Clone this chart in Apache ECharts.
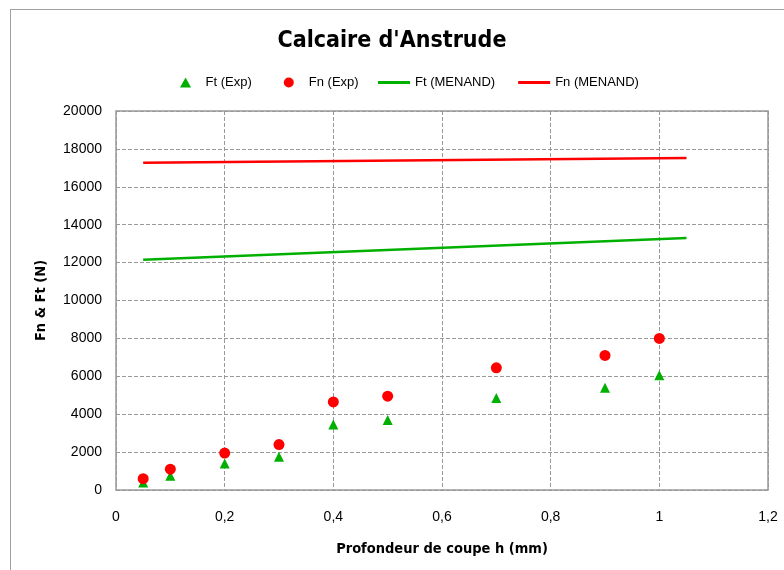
<!DOCTYPE html>
<html lang="fr">
<head>
  <meta charset="utf-8">
  <title>Calcaire d'Anstrude</title>
  <script src="https://cdn.jsdelivr.net/npm/echarts@6/dist/echarts.min.js"></script>
  <style>
    body { margin: 0; background: #fff; }
    #frame {
      position: absolute; left: 10px; top: 9px; width: 800px; height: 600px;
      border: 1px solid #a0a0a0; box-sizing: border-box;
    }
    #main { position: absolute; left: 0; top: 0; width: 784px; height: 570px; }
  </style>
</head>
<body>
  <div id="frame"></div>
  <div id="main"></div>
  <script>
    // profondeur de coupe h (mm)
    var hExp = [0.05, 0.1, 0.2, 0.3, 0.4, 0.5, 0.7, 0.9, 1.0];
    var ftExp = [400, 750, 1400, 1750, 3450, 3700, 4850, 5400, 6050];
    var fnExp = [600, 1100, 1950, 2400, 4650, 4950, 6450, 7100, 8000];

    // modèle MENAND
    var hModel = [0.05, 1.05];
    var ftModel = [12150, 13300];
    var fnModel = [17270, 17520];

    function pairs(xs, ys) {
      return xs.map(function (x, i) { return [x, ys[i]]; });
    }

    var narrow = "'Liberation Sans Narrow', 'DejaVu Sans Condensed', sans-serif";
    var plain = "'Liberation Sans', Arial, sans-serif";
    var lineIcon = 'path://M0,0H32V3H0Z';
    var triIcon = 'path://M5,0L10,9L0,9Z';

    var myChart = echarts.init(document.getElementById('main'));

    var option = {
      animation: false,
      textStyle: { fontFamily: plain },
      title: {
        text: "Calcaire d'Anstrude",
        left: 'center',
        top: 25,
        textStyle: { fontFamily: narrow, fontSize: 23, fontWeight: 'bold', color: '#000' }
      },
      legend: [
        {
          top: 71,
          left: 175,
          itemGap: 32,
          itemWidth: 30,
          itemHeight: 10,
          textStyle: { fontFamily: plain, fontSize: 13, color: '#000' },
          data: [
            { name: 'Ft (Exp)', icon: triIcon },
            { name: 'Fn (Exp)', icon: 'circle' }
          ]
        },
        {
          top: 71,
          left: 373,
          itemGap: 23,
          itemWidth: 32,
          itemHeight: 10,
          textStyle: { fontFamily: plain, fontSize: 13, color: '#000' },
          data: [
            { name: 'Ft (MENAND)', icon: lineIcon },
            { name: 'Fn (MENAND)', icon: lineIcon }
          ]
        }
      ],
      grid: {
        left: 116,
        right: 16,
        top: 111,
        bottom: 80,
        show: true,
        borderColor: '#999',
        borderWidth: 1.5
      },
      xAxis: {
        type: 'value',
        min: 0,
        max: 1.2,
        interval: 0.2,
        name: 'Profondeur de coupe h (mm)',
        nameLocation: 'middle',
        nameGap: 52,
        nameTextStyle: { fontFamily: narrow, fontSize: 14.5, fontWeight: 'bold', color: '#000' },
        axisLine: { show: false },
        axisTick: { show: false },
        axisLabel: {
          margin: 20,
          fontSize: 14,
          color: '#000',
          formatter: function (v) { return String(+v.toFixed(1)).replace('.', ','); }
        },
        splitLine: { lineStyle: { type: 'dashed', color: '#999', width: 1 } }
      },
      yAxis: {
        type: 'value',
        min: 0,
        max: 20000,
        interval: 2000,
        name: 'Fn & Ft (N)',
        nameLocation: 'middle',
        nameGap: 67,
        nameTextStyle: { fontFamily: narrow, fontSize: 14.5, fontWeight: 'bold', color: '#000' },
        axisLine: { show: false },
        axisTick: { show: false },
        axisLabel: {
          margin: 14,
          fontSize: 14,
          color: '#000',
          formatter: function (v) { return String(v); }
        },
        splitLine: { lineStyle: { type: 'dashed', color: '#999', width: 1 } }
      },
      series: [
        {
          name: 'Ft (Exp)',
          type: 'scatter',
          symbol: 'triangle',
          symbolSize: 10,
          itemStyle: { color: '#00b000', opacity: 1 },
          data: pairs(hExp, ftExp)
        },
        {
          name: 'Fn (Exp)',
          type: 'scatter',
          symbol: 'circle',
          symbolSize: 11,
          itemStyle: { color: '#ff0000', opacity: 1 },
          data: pairs(hExp, fnExp)
        },
        {
          name: 'Ft (MENAND)',
          type: 'line',
          showSymbol: false,
          symbol: 'none',
          lineStyle: { color: '#00b000', width: 2.5 },
          itemStyle: { color: '#00b000' },
          data: pairs(hModel, ftModel)
        },
        {
          name: 'Fn (MENAND)',
          type: 'line',
          showSymbol: false,
          symbol: 'none',
          lineStyle: { color: '#ff0000', width: 2.5 },
          itemStyle: { color: '#ff0000' },
          data: pairs(hModel, fnModel)
        }
      ]
    };

    myChart.setOption(option);
  </script>
</body>
</html>
